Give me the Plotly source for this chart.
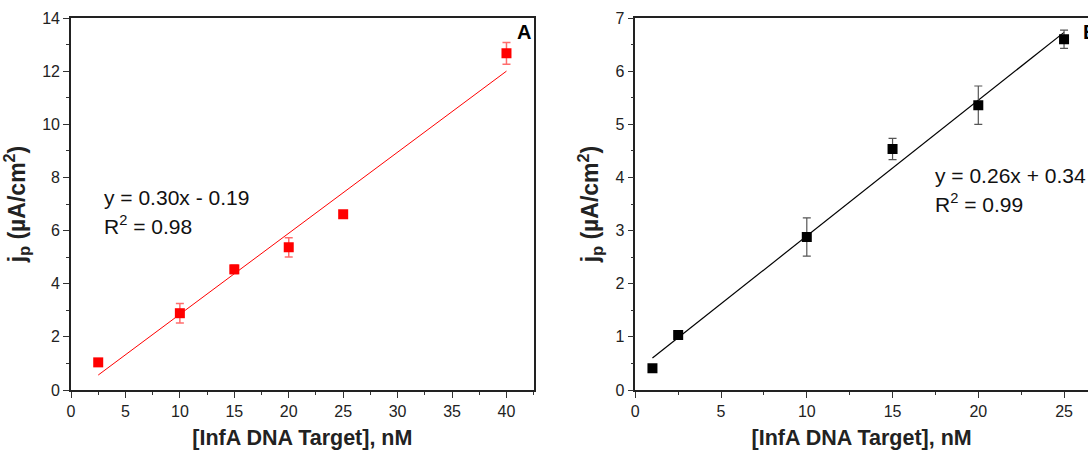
import numpy as np
import plotly.graph_objects as go

# ---- data ----
conc_A = [2.5, 10, 15, 20, 25, 40]
jp_A = [1.04, 2.89, 4.54, 5.37, 6.61, 12.67]
err_A = [0.0, 0.37, 0.16, 0.36, 0.08, 0.41]
fit_A = (0.305, -0.20)
eq_A = "y = 0.30x - 0.19"
r2_A = "R<sup>2</sup> = 0.98"

conc_B = [1, 2.5, 10, 15, 20, 25]
jp_B = [0.41, 1.035, 2.88, 4.535, 5.36, 6.60]
err_B = [0.0, 0.0, 0.36, 0.20, 0.36, 0.17]
fit_B = (0.2554, 0.345)
eq_B = "y = 0.26x + 0.34"
r2_B = "R<sup>2</sup> = 0.99"

xticks_A = [0, 5, 10, 15, 20, 25, 30, 35, 40]
yticks_A = [0, 2, 4, 6, 8, 10, 12, 14]
xticks_B = [0, 5, 10, 15, 20, 25]
yticks_B = [0, 1, 2, 3, 4, 5, 6, 7]

FONT = "Arial, Liberation Sans, sans-serif"
W, H = 1088, 450

fig = go.Figure()

def fit_line(x, coef):
    xs = np.array([min(x), max(x)], dtype=float)
    return xs, coef[0] * xs + coef[1]

# Panel A
lx, ly = fit_line(conc_A, fit_A)
fig.add_trace(go.Scatter(x=lx, y=ly, mode="lines", line=dict(color="#ff0000", width=1),
                         xaxis="x", yaxis="y", showlegend=False, hoverinfo="skip"))
fig.add_trace(go.Scatter(x=conc_A, y=jp_A, mode="markers",
                         marker=dict(symbol="square", size=10, color="#ff0000"),
                         error_y=dict(type="data", array=err_A, visible=True,
                                      color="rgba(255,60,60,0.75)", thickness=1.5, width=4),
                         xaxis="x", yaxis="y", showlegend=False))

# Panel B
lx, ly = fit_line(conc_B, fit_B)
fig.add_trace(go.Scatter(x=lx, y=ly, mode="lines", line=dict(color="#000000", width=1.2),
                         xaxis="x2", yaxis="y2", showlegend=False, hoverinfo="skip"))
fig.add_trace(go.Scatter(x=conc_B, y=jp_B, mode="markers",
                         marker=dict(symbol="square", size=10, color="#000000"),
                         error_y=dict(type="data", array=err_B, visible=True,
                                      color="#555555", thickness=1.2, width=4),
                         xaxis="x2", yaxis="y2", showlegend=False))

axis_common = dict(showgrid=False, zeroline=False, showline=True, linecolor="#222222",
                   linewidth=1.6, ticks="outside", ticklen=6, tickwidth=1.3, tickcolor="#333333",
                   automargin=False,
                   tickfont=dict(family=FONT, size=16, color="#222222"))

ytitle = "j<sub>p</sub> (µA/cm<sup>2</sup>)"
xtitle = "[InfA DNA Target], nM"
xtfont = dict(family=FONT, size=21.5, color="#222222", weight="bold")
ytfont = dict(family=FONT, size=23, color="#222222", weight="bold")

fig.update_layout(
    width=W, height=H, margin=dict(l=0, r=0, t=0, b=0),
    paper_bgcolor="white", plot_bgcolor="white",
    xaxis=dict(domain=[71 / W, 533.7 / W], range=[0, 42.5], tickvals=xticks_A,
               minor=dict(ticks="outside", ticklen=3, dtick=2.5, tickcolor="#333333"),
               mirror=True, anchor="y",
               title=dict(text=xtitle, font=xtfont, standoff=12), **axis_common),
    yaxis=dict(domain=[1 - 390 / H, 1 - 18 / H], range=[0, 14], tickvals=yticks_A,
               minor=dict(ticks="outside", ticklen=3, dtick=1, tickcolor="#333333"),
               mirror=True, anchor="x",
               title=dict(text=ytitle, font=ytfont, standoff=10), **axis_common),
    xaxis2=dict(domain=[635.3 / W, 1.0], range=[0, (W - 635.3) / 17.15], tickvals=xticks_B,
                minor=dict(ticks="outside", ticklen=3, dtick=2.5, tickcolor="#333333"),
                mirror=True, anchor="y2",
                title=dict(text=xtitle, font=xtfont, standoff=12), **axis_common),
    yaxis2=dict(domain=[1 - 390 / H, 1 - 18 / H], range=[0, 7], tickvals=yticks_B,
                minor=dict(ticks="outside", ticklen=3, dtick=0.5, tickcolor="#333333"),
                mirror=False, anchor="x2",
                title=dict(text=ytitle, font=ytfont, standoff=10), **axis_common),
)

afont = dict(family=FONT, size=21, color="#111111")
ann = [
    dict(x=2.85, y=7.26, xref="x", yref="y", text=eq_A, showarrow=False, xanchor="left", font=afont),
    dict(x=2.85, y=6.21, xref="x", yref="y", text=r2_A, showarrow=False, xanchor="left", font=afont),
    dict(x=17.36, y=4.03, xref="x2", yref="y2", text=eq_B, showarrow=False, xanchor="left", font=afont),
    dict(x=17.36, y=3.52, xref="x2", yref="y2", text=r2_B, showarrow=False, xanchor="left", font=afont),
    dict(x=533 / W, y=1 - 32 / H, xref="paper", yref="paper", text="<b>A</b>", showarrow=False,
         xanchor="right", yanchor="middle", font=dict(family=FONT, size=20, color="#000000")),
    dict(x=1081 / W, y=1 - 32 / H, xref="paper", yref="paper", text="<b>B</b>", showarrow=False,
         xanchor="left", yanchor="middle", font=dict(family=FONT, size=20, color="#000000")),
]
fig.update_layout(annotations=ann)

fig.write_html("out.html")
